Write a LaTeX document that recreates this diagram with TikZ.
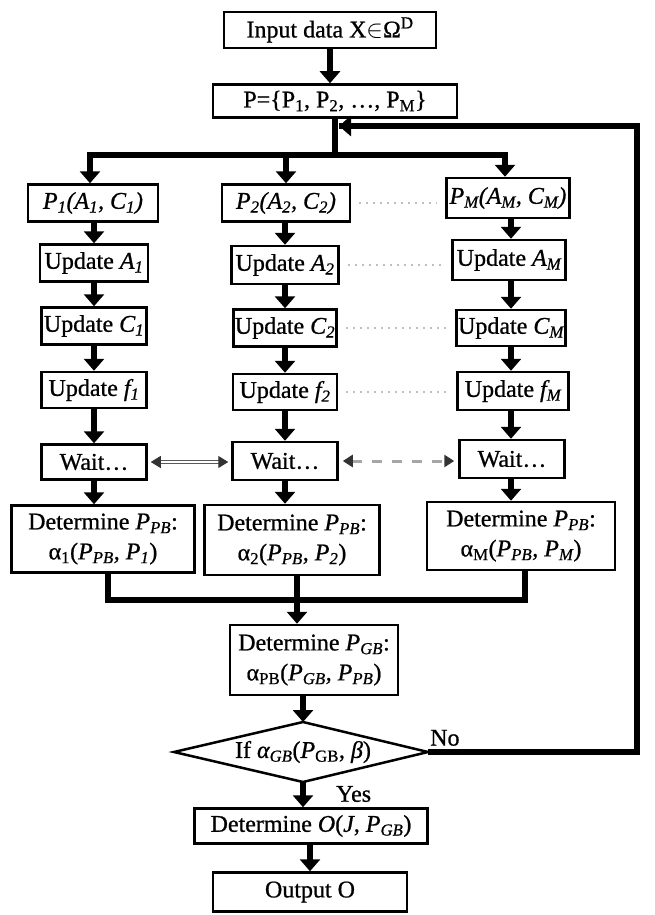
\documentclass[tikz,border=0pt]{standalone}
\usepackage{fontspec}
\setmainfont{Liberation Serif}[UprightFeatures={FakeBold=0.8},ItalicFeatures={FakeBold=0.8}]
\usetikzlibrary{arrows.meta}
\newcommand{\fs}{\fontsize{24}{30}\selectfont}
\newcommand{\sbs}[1]{\textsubscript{#1}}
\tikzset{wtip/.tip={Triangle[length=10pt,width=12pt,color=black!80,fill=black!80]}}
\begin{document}
\begin{tikzpicture}[x=1pt,y=-1pt,
  box/.style={draw, line width=2.5pt, inner sep=1pt, align=center, font=\fs},
  arr/.style={line width=6pt, -{Triangle[length=12pt,width=20pt]}},
  thk/.style={line width=6pt, line join=miter},
  dotl/.style={gray!50, line width=1.3pt, dash pattern=on 2pt off 5pt},
  lbl/.style={font=\fs, inner sep=0pt}]
\useasboundingbox (0,0) rectangle (654,915);
% top
\node[box, minimum width=212pt, minimum height=36pt] (in) at (330,30) {Input data X$\in$Ω\textsuperscript{D}};
\node[box, minimum width=244pt, minimum height=33pt] (P) at (335,101) {P=\{P\sbs{1}, P\sbs{2}, …, P\sbs{M}\}};
% column 1
\node[box, minimum width=130pt, minimum height=37pt] (p1) at (93,203) {\textit{P\sbs{1}(A\sbs{1}, C\sbs{1})}};
\node[box, minimum width=108pt, minimum height=37pt] (a1) at (94,263) {Update \textit{A\sbs{1}}};
\node[box, minimum width=105pt, minimum height=37pt] (c1) at (94,326) {Update \textit{C\sbs{1}}};
\node[box, minimum width=105pt, minimum height=36pt] (f1) at (94,390) {Update \textit{f\sbs{1}}};
\node[box, minimum width=105pt, minimum height=35pt] (w1) at (94,462) {Wait…};
\node[box, minimum width=183pt, minimum height=67pt] (d1) at (103,539) {Determine \textit{P\sbs{PB}}:\\α\sbs{1}(\textit{P\sbs{PB}, P\sbs{1}})};
% column 2
\node[box, minimum width=128pt, minimum height=37pt] (p2) at (286,203) {\textit{P\sbs{2}(A\sbs{2}, C\sbs{2})}};
\node[box, minimum width=107pt, minimum height=38pt] (a2) at (285,265) {Update \textit{A\sbs{2}}};
\node[box, minimum width=103pt, minimum height=37pt] (c2) at (285,328) {Update \textit{C\sbs{2}}};
\node[box, minimum width=104pt, minimum height=36pt] (f2) at (285,392) {Update \textit{f\sbs{2}}};
\node[box, minimum width=105pt, minimum height=38pt] (w2) at (285,461) {Wait…};
\node[box, minimum width=175pt, minimum height=70pt] (d2) at (292,540) {Determine \textit{P\sbs{PB}}:\\α\sbs{2}(\textit{P\sbs{PB}, P\sbs{2}})};
% column M
\node[box, minimum width=123pt, minimum height=40pt] (pM) at (508,198) {\textit{P\sbs{M}(A\sbs{M}, C\sbs{M})}};
\node[box, minimum width=113pt, minimum height=40pt] (aM) at (509,260) {Update \textit{A\sbs{M}}};
\node[box, minimum width=109pt, minimum height=36pt] (cM) at (511,328) {Update \textit{C\sbs{M}}};
\node[box, minimum width=111pt, minimum height=38pt] (fM) at (513,391) {Update \textit{f\sbs{M}}};
\node[box, minimum width=105pt, minimum height=38pt] (wM) at (512,459) {Wait…};
\node[box, minimum width=188pt, minimum height=68pt] (dM) at (521,536) {Determine \textit{P\sbs{PB}}:\\α\sbs{M}(\textit{P\sbs{PB}, P\sbs{M}})};
% lower
\node[box, minimum width=168pt, minimum height=70pt] (gb) at (314,660) {Determine \textit{P\sbs{GB}}:\\α\sbs{PB}(\textit{P\sbs{GB}, P\sbs{PB}})};
\coordinate (dT) at (303,722);
\coordinate (dB) at (303,782);
\coordinate (dL) at (174,752);
\coordinate (dR) at (428,752);
\draw[line width=2.5pt, line join=miter] (dT) -- (dR) -- (dB) -- (dL) -- cycle;
\node[lbl] (ifn) at (303,752) {If \textit{α\sbs{GB}}(\textit{P}\sbs{GB}, \textit{β})};
\node[box, minimum width=233pt, minimum height=35pt] (oj) at (311,826) {Determine \textit{O}(\textit{J}, \textit{P\sbs{GB}})};
\node[box, minimum width=194pt, minimum height=39pt] (out) at (310,892) {Output O};
\node[lbl, anchor=south west] (no) at (430,746) {No};
\node[lbl, anchor=west] (yes) at (336,794) {Yes};
% top arrows
\draw[arr] (in.south) -- (in.south |- P.north);
\coordinate (br) at (335,155);
\coordinate (bl) at (90,155);
\coordinate (bm) at (286,155);
\coordinate (bre) at (505,155);
\draw[thk] (P.south) -- (br);
\draw[thk, line cap=rect] (bl) -- (bre);
\draw[arr] (bl) -- (bl |- p1.north);
\draw[arr] (bm) -- (bm |- p2.north);
\draw[arr] (bre) -- (bre |- pM.north);
% column arrows
\foreach \u/\v in {p1/a1,a1/c1,c1/f1,f1/w1,w1/d1}{\draw[arr] (\u.south -| a1) -- (a1 |- \v.north);}
\foreach \u/\v in {p2/a2,a2/c2,c2/f2,f2/w2,w2/d2}{\draw[arr] (\u.south -| a2) -- (a2 |- \v.north);}
\foreach \u/\v in {pM/aM,aM/cM,cM/fM,fM/wM,wM/dM}{\draw[arr] (\u.south -| cM) -- (cM |- \v.north);}
% merge
\coordinate (m1) at (108,600);
\coordinate (m2) at (297,600);
\coordinate (m3) at (525,600);
\draw[thk] (m1 |- d1.south) -- (m1) -- (m3) -- (m3 |- dM.south);
\draw[thk] (m2 |- d2.south) -- (m2);
\draw[arr] (m2) -- (m2 |- gb.north);
\draw[arr] (gb.south -| dT) -- (dT);
\draw[arr] (dB) -- (dB |- oj.north);
\draw[arr] (oj.south -| out) -- (out.north);
% feedback
\coordinate (fr) at (637,752);
\coordinate (ft) at (637,126);
\coordinate (fb) at (339,126);
\draw[thk] (dR) -- (fr) -- (ft) -- (fb);
\draw[arr] (ft) -- (fb);
% dotted links
\draw[dotl] ([xshift=8pt]p2.east) -- ([xshift=-8pt]pM.west |- p2.east);
\draw[dotl] ([xshift=8pt]a2.east) -- ([xshift=-8pt]aM.west |- a2.east);
\draw[dotl] ([xshift=8pt]c2.east) -- ([xshift=-8pt]cM.west |- c2.east);
\draw[dotl] ([xshift=8pt]f2.east) -- ([xshift=-8pt]fM.west |- f2.east);
% wait links
\draw[black!65, double=white, double distance=1.5pt, line width=1.2pt, {wtip}-{wtip}, shorten <=3pt, shorten >=3pt] (w1.east) -- (w1.east -| w2.west);
\draw[gray!70, line width=3pt, dash pattern=on 10pt off 10pt, {wtip}-{wtip}, shorten <=4pt, shorten >=4pt] (w2.east) -- (w2.east -| wM.west);
\end{tikzpicture}
\end{document}
